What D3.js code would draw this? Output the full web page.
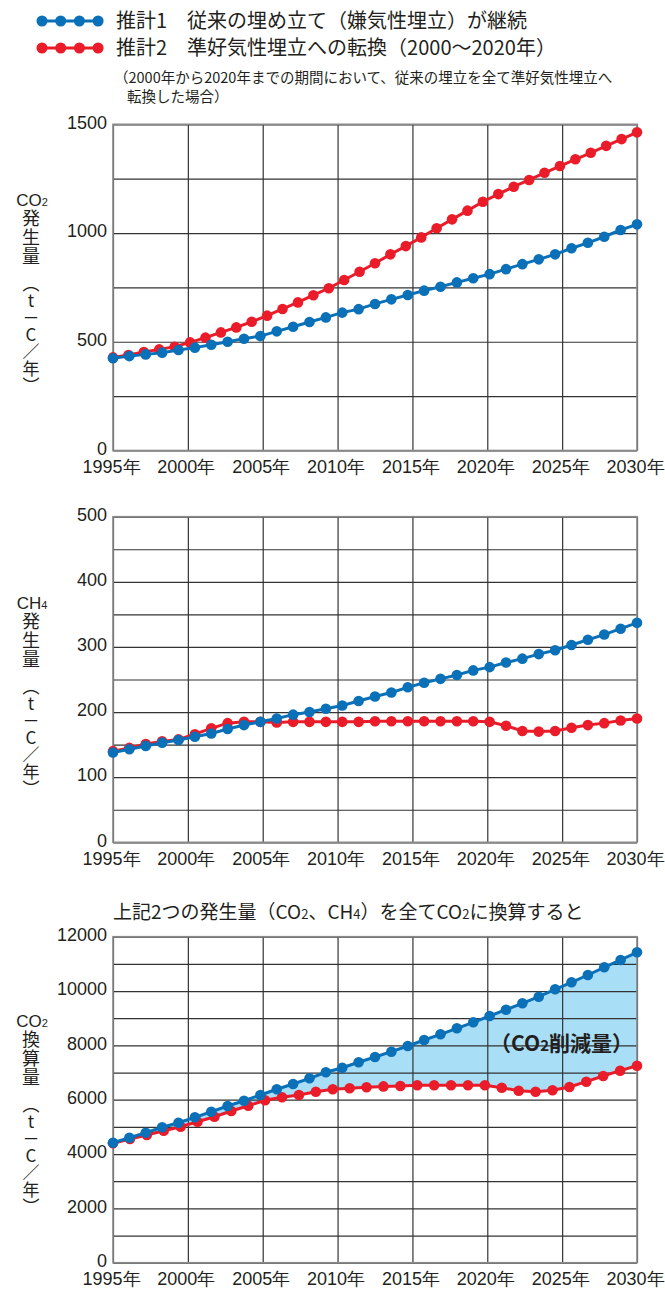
<!DOCTYPE html>
<html>
<head>
<meta charset="utf-8">
<script src="https://cdnjs.cloudflare.com/ajax/libs/d3/7.8.5/d3.min.js"></script>
<style>
  body { margin: 0; background: #fff; }
  svg { display: block; }
  text { fill: #231f20; }
  .tick text { font-family: "Liberation Sans Narrow", "Arial Narrow", "Liberation Sans", sans-serif; font-size: 18px; }
  .jp { font-family: "Noto Sans CJK JP", "Noto Sans", sans-serif; }
  .vert { writing-mode: vertical-rl; text-orientation: upright; }
</style>
</head>
<body>
<svg width="665" height="1290"></svg>
<script>
// years shown on the x axis
var years = [1995, 2000, 2005, 2010, 2015, 2020, 2025, 2030];

// CO2 (t-C/year)
var co2Case1 = [424, 434, 442, 450, 462, 473, 486, 500, 514, 526, 548, 569, 591, 612, 634, 650, 674,
  695, 715, 735, 753, 773, 792, 811, 834, 857, 879, 902, 930, 955, 983, 1014, 1040];
var co2Case2 = [428, 439, 453, 465, 477, 497, 519, 543, 566, 592, 620, 651, 681, 714, 746, 784, 822,
  861, 902, 940, 980, 1022, 1063, 1103, 1144, 1179, 1213, 1244, 1277, 1308, 1339, 1369, 1401, 1432, 1463];

// CH4 (t-C/year)
var ch4Case1 = [138, 143, 148, 153, 157, 162, 167, 174, 180, 185, 190, 196, 200, 205, 210, 217, 224,
  230, 238, 245, 251, 257, 264, 269, 276, 282, 289, 295, 303, 311, 319, 328, 337];
var ch4Case2 = [140, 145, 151, 155, 158, 166, 175, 183, 185, 185, 184, 185, 185, 185, 185, 185, 186,
  186, 186, 186, 186, 186, 186, 185, 179, 171, 170, 171, 176, 180, 183, 187, 190];

// CO2 equivalent (t-C/year)
var eqCase1 = [4417, 4601, 4785, 4984, 5153, 5352, 5558, 5768, 5963, 6173, 6383, 6578, 6788, 7009, 7178,
  7377, 7570, 7767, 7977, 8198, 8407, 8628, 8849, 9081, 9313, 9548, 9791, 10064, 10321, 10590, 10874, 11143, 11426];
var eqCase2 = [4395, 4553, 4701, 4859, 5006, 5190, 5374, 5584, 5779, 5978, 6089, 6173, 6295, 6383, 6420, 6460,
  6490, 6504, 6530, 6530, 6530, 6530, 6530, 6442, 6331, 6295, 6346, 6468, 6663, 6873, 7068, 7252];

var blue = "#0a70b8";
var red = "#ea1c2a";

var svg = d3.select("svg");
var left = 113, right = 637;

var x = d3.scaleLinear().domain([1995, 2030]).range([left, right]);

// legend
function legendRow(y, color, label) {
  var g = svg.append("g");
  g.append("line").attr("x1", 40).attr("x2", 98).attr("y1", y).attr("y2", y)
    .attr("stroke", color).attr("stroke-width", 3);
  g.selectAll("circle").data([0, 1, 2, 3]).enter().append("circle")
    .attr("cx", function (d) { return 42 + d * 18.7; })
    .attr("cy", y).attr("r", 5.5).attr("fill", color);
  g.append("text").attr("class", "jp").attr("x", 116).attr("y", y + 7)
    .attr("font-size", 20).text(label);
}
legendRow(21, blue, "推計1　従来の埋め立て（嫌気性埋立）が継続");
legendRow(48, red, "推計2　準好気性埋立への転換（2000～2020年）");
svg.append("text").attr("class", "jp").attr("x", 114).attr("y", 83).attr("font-size", 14.5)
  .text("（2000年から2020年までの期間において、従来の埋立を全て準好気性埋立へ");
svg.append("text").attr("class", "jp").attr("x", 127).attr("y", 102).attr("font-size", 14.5)
  .text("転換した場合）");

function idx(arr) {
  return d3.scaleLinear().domain([0, arr.length - 1]).range([left, right]);
}

function panel(cfg) {
  var y = d3.scaleLinear().domain([0, cfg.max]).range([cfg.bottom, cfg.top]);
  var g = svg.append("g");

  if (cfg.fill) {
    var a = cfg.series[0], b = cfg.series[1];
    var top = a.map(function (v, i) { return [idx(a)(i), y(v)]; });
    var back = b.map(function (v, i) { return [idx(b)(i), y(v)]; }).reverse();
    g.append("path").attr("d", d3.line()(top.concat(back)) + "Z")
      .attr("fill", "#a9def7");
  }

  // grid
  g.append("g").attr("transform", "translate(" + left + ",0)")
    .call(d3.axisLeft(y).tickValues(d3.range(0, cfg.max + 1, cfg.minor)).tickSize(-(right - left)).tickFormat(""))
    .call(function (s) { s.select(".domain").remove(); })
    .selectAll("line").attr("stroke", "#333").attr("stroke-width", 1.2);
  g.append("g").attr("transform", "translate(0," + cfg.bottom + ")")
    .call(d3.axisBottom(x).tickValues(years).tickSize(-(cfg.bottom - cfg.top)).tickFormat(""))
    .call(function (s) { s.select(".domain").remove(); })
    .selectAll("line").attr("stroke", "#333").attr("stroke-width", 1.2);
  g.append("rect").attr("x", left).attr("y", cfg.top).attr("width", right - left)
    .attr("height", cfg.bottom - cfg.top).attr("fill", "none").attr("stroke", "#8a8a8a").attr("stroke-width", 1.6);

  // tick labels
  g.append("g").attr("transform", "translate(" + (left - 6) + ",-2)")
    .call(d3.axisLeft(y).tickValues(d3.range(0, cfg.max + 1, cfg.major)).tickSize(0).tickPadding(0)
      .tickFormat(d3.format("d")))
    .call(function (s) { s.select(".domain").remove(); });
  g.append("g").attr("transform", "translate(-2," + (cfg.bottom + 10) + ")")
    .call(d3.axisBottom(x).tickValues(years).tickSize(0).tickPadding(0)
      .tickFormat(function (d) { return d + "年"; }))
    .call(function (s) { s.select(".domain").remove(); });

  // series, case 2 below case 1
  [[cfg.series[1], red], [cfg.series[0], blue]].forEach(function (p) {
    var data = p[0], sx = idx(data);
    g.append("path").datum(data)
      .attr("d", d3.line().x(function (d, i) { return sx(i); }).y(function (d) { return y(d); }))
      .attr("fill", "none").attr("stroke", p[1]).attr("stroke-width", 3);
    g.selectAll(null).data(data).enter().append("circle")
      .attr("cx", function (d, i) { return sx(i); })
      .attr("cy", function (d) { return y(d); })
      .attr("r", 5.3).attr("fill", p[1]);
  });

  // vertical axis title
  var head = g.append("text").attr("x", 32).attr("y", cfg.labelTop + 6).attr("text-anchor", "middle")
    .attr("font-family", "Liberation Sans Narrow, Liberation Sans, sans-serif").attr("font-size", 17);
  head.append("tspan").text(cfg.chem[0]);
  head.append("tspan").attr("font-size", 11).text(cfg.chem[1]);
  g.append("text").attr("class", "jp vert").attr("x", 31).attr("y", cfg.labelTop + 9)
    .attr("font-size", 18).attr("letter-spacing", 1).text(cfg.word);
  g.append("text").attr("class", "jp vert").attr("x", 31).attr("y", cfg.labelTop + 75)
    .attr("font-size", 17).attr("letter-spacing", 0).text("（t－C／年）");
}

panel({ max: 1500, major: 500, minor: 250, top: 124.3, bottom: 450.5,
  series: [co2Case1, co2Case2], chem: ["CO", "2"], word: "発生量", labelTop: 200 });
panel({ max: 500, major: 100, minor: 50, top: 516.7, bottom: 842.3,
  series: [ch4Case1, ch4Case2], chem: ["CH", "4"], word: "発生量", labelTop: 603 });
panel({ max: 12000, major: 2000, minor: 1000, top: 936.7, bottom: 1262.7, fill: true,
  series: [eqCase1, eqCase2], chem: ["CO", "2"], word: "換算量", labelTop: 1021 });

// title and annotation of the third chart
var title = svg.append("text").attr("class", "jp").attr("x", 113).attr("y", 919).attr("font-size", 19);
title.append("tspan").text("上記2つの発生量（CO");
title.append("tspan").attr("font-size", 13).text("2");
title.append("tspan").text("、CH");
title.append("tspan").attr("font-size", 13).text("4");
title.append("tspan").text("）を全てCO");
title.append("tspan").attr("font-size", 13).text("2");
title.append("tspan").text("に換算すると");

var note = svg.append("text").attr("class", "jp").attr("x", 490).attr("y", 1051)
  .attr("font-size", 21).attr("font-weight", "bold");
note.append("tspan").text("（CO");
note.append("tspan").attr("font-size", 15).text("2");
note.append("tspan").text("削減量）");
</script>
</body>
</html>
